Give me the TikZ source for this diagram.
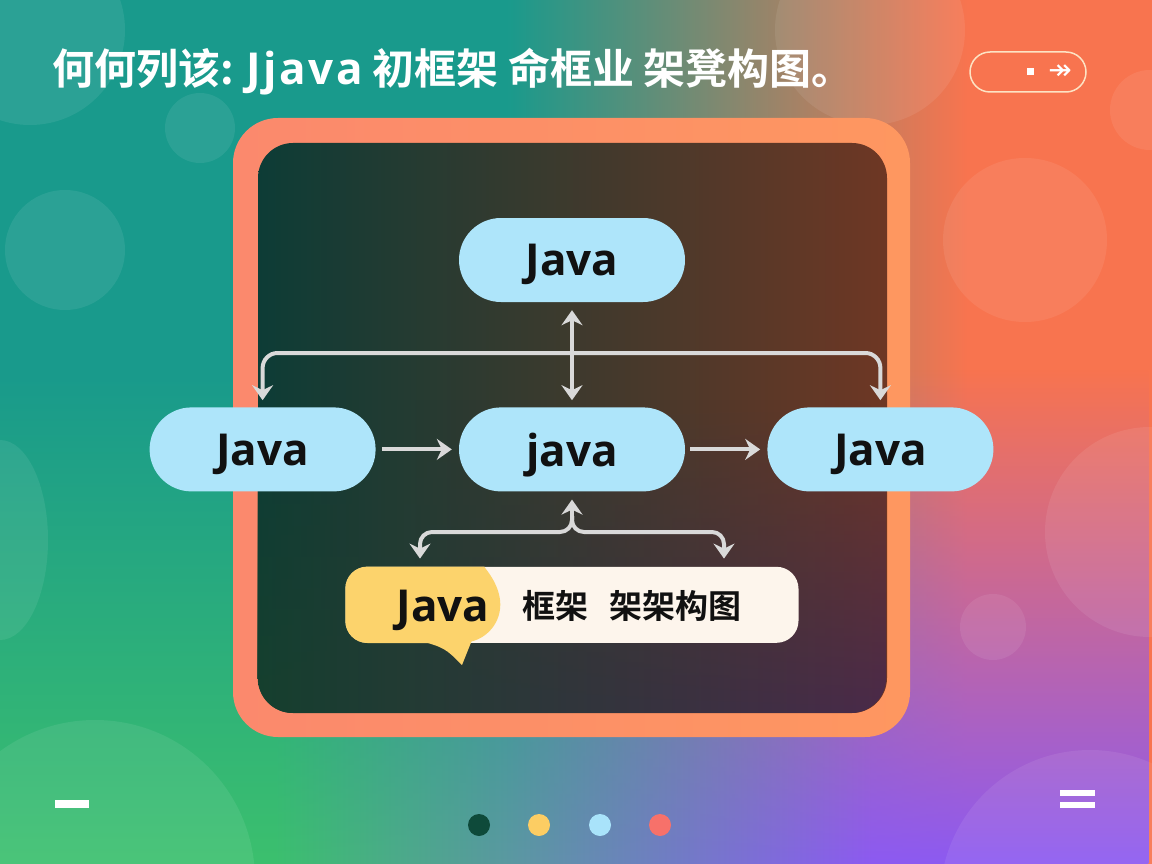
\documentclass[tikz,border=0pt]{standalone}
\usepackage{fontspec}
\setmainfont{Open Sans}
\newfontfamily\cjk{Noto Sans CJK SC}[BoldFont={Noto Sans CJK SC Bold}]
\newfontfamily\dejavu{DejaVu Sans}
\usetikzlibrary{positioning}
\usetikzlibrary{arrows.meta}
\usetikzlibrary{fadings}
\definecolor{bgtl}{HTML}{199A8C}
\definecolor{bgtr}{HTML}{F8744F}
\definecolor{bgbl}{HTML}{3CC06E}
\definecolor{bgbr}{HTML}{8C5AF2}
\definecolor{frl}{HTML}{FB896D}
\definecolor{frr}{HTML}{FE9760}
\definecolor{pnl}{HTML}{0D3C36}
\definecolor{pnr}{HTML}{6E3724}
\definecolor{pnbl}{HTML}{16402E}
\definecolor{pnbr}{HTML}{4A2A4A}
\definecolor{jblue}{HTML}{AEE5FA}
\definecolor{jcream}{HTML}{FDF5EC}
\definecolor{jyellow}{HTML}{FCD36C}
\definecolor{jgrey}{HTML}{D9D9D9}
\definecolor{jline}{HTML}{FDE3C4}
\definecolor{jink}{HTML}{111111}
\definecolor{dotg}{HTML}{0E4A3A}
\definecolor{doty}{HTML}{FCCD63}
\definecolor{dotb}{HTML}{A9E3FA}
\definecolor{dotr}{HTML}{F7716A}
\pgfdeclarehorizontalshading{bgtop}{100bp}{color(0bp)=(bgtl); color(47bp)=(bgtl); color(67bp)=(bgtr); color(100bp)=(bgtr)}
\pgfdeclarehorizontalshading{bgbot}{100bp}{color(0bp)=(bgbl); color(37bp)=(bgbl); color(63bp)=(bgbr); color(100bp)=(bgbr)}
\tikzset{
    mynodeb/.style = {rounded corners=42pt, fill=jblue, minimum width=226pt, minimum height=84pt, text depth=0pt, font=\bfseries\fontsize{44}{44}\selectfont, text=jink},
    mynodew/.style = {rounded corners=22pt, fill=jcream, minimum width=453pt, minimum height=76pt},
    mynodet/.style = {text depth=0pt, font=\bfseries\fontsize{44}{44}\selectfont, text=jink},
    mynodec/.style = {font=\cjk\bfseries\fontsize{33}{33}\selectfont, text=jink},
    mydot/.style = {circle, minimum size=22pt, inner sep=0pt},
    edgeg/.style = {line width=4pt, jgrey},
    bubble/.style = {fill=white, opacity=0.08}, % decor
    >={Stealth[length=15pt,width=21pt,inset=5pt]}
}

\begin{document}
\begin{tikzpicture}[x=1pt, y=-1pt]
  \useasboundingbox (0,0) rectangle (1152,864);
  % background
  \shade[shading=bgtop] (0,0) rectangle (1152,864);
  \shade[shading=bgbot, path fading=north] (0,370) rectangle (1152,864);
  \fill[bubble] (30,30) circle[radius=95pt];
  \fill[bubble] (200,128) circle[radius=35pt];
  \fill[bubble] (65,250) circle[radius=60pt];
  \fill[bubble] (0,540) ellipse[x radius=48pt, y radius=100pt];
  \fill[bubble] (95,880) circle[radius=160pt];
  \fill[bubble] (870,30) circle[radius=95pt];
  \fill[bubble] (1150,110) circle[radius=40pt];
  \fill[bubble] (1025,240) circle[radius=82pt];
  \fill[bubble] (1150,532) circle[radius=105pt];
  \fill[bubble] (993,627) circle[radius=33pt];
  \fill[bubble] (1090,900) circle[radius=150pt];

  % title and button
  \node[anchor=west, inner sep=0pt, text=white, font=\cjk\bfseries\fontsize{42}{42}\selectfont] (title) at (52,72)
    {何何列该: {\rmfamily\bfseries\fontsize{44}{44}\selectfont\addfontfeature{LetterSpace=6}Jjava} 初框架 命框业 架凳构图。};
  \node[draw=jline, line width=1.5pt, rounded corners=20pt, minimum width=116pt, minimum height=40pt] (btn) at (1028,72) {};
  \node[fill=white, minimum width=7pt, minimum height=7pt, inner sep=0pt] (btndot) at (1030,72) {};
  \node[text=white, font=\dejavu\fontsize{28}{28}\selectfont, inner sep=0pt] (btnarr) at (1060,72) {↠};

  % frame
  \shade[rounded corners=45pt, left color=frl, right color=frr] (233,118) rectangle (910,737);
  \shade[rounded corners=35pt, left color=pnl, right color=pnr] (258,143) rectangle (887,713);
  \shade[rounded corners=35pt, left color=pnbl, right color=pnbr, path fading=north] (258,400) rectangle (887,713);

  % nodes
  \node[mynodeb] (top) at (572,260) {Java};
  \node[mynodeb, below=105pt of top] (mid) {java};
  \node[mynodeb, left=83pt of mid] (lft) {Java};
  \node[mynodeb, right=82pt of mid] (rgt) {Java};
  \node[mynodew, below=75pt of mid] (bub) {};
  \fill[jyellow, rounded corners=22pt] ([xshift=117pt]bub.south west) -- (bub.south west) -- (bub.north west)
    -- ([xshift=117pt]bub.north west) [sharp corners] arc[start angle=90, end angle=-90, radius=38pt] -- cycle;
  \fill[jyellow] (418,640) .. controls (445,648) .. (462,665) -- (472,640) -- cycle;
  \node[mynodet] (bjava) at (443,606) {Java};
  \node[mynodec, anchor=west] (bcn) at (519,606) {框架\hspace{0.65em}架架构图};

  % connectors
  \coordinate (bar) at (572,353);
  \coordinate (fork) at (572,516);
  \coordinate (forkl) at (420,532);
  \coordinate (forkr) at (724,532);
  \draw[edgeg, <->, rounded corners=15pt] ([yshift=7pt]lft.north) |- (bar) -| ([yshift=7pt]rgt.north);
  \draw[edgeg, <->, shorten <=8pt, shorten >=7pt] (top) -- (mid);
  \draw[edgeg, ->, shorten <=6pt, shorten >=7pt] (lft) -- (mid);
  \draw[edgeg, ->, shorten <=5pt, shorten >=7pt] (mid) -- (rgt);
  \draw[edgeg, ->, shorten >=8pt] (fork) -- (mid.south);
  \draw[edgeg, ->, rounded corners=12pt, shorten >=8pt] (fork) |- (forkl) -- (forkl |- bub.north);
  \draw[edgeg, ->, rounded corners=12pt, shorten >=8pt] (fork) |- (forkr) -- (forkr |- bub.north);

  % footer
  \fill[white] (55,800) rectangle (89,808);
  \fill[white] (1060,790) rectangle (1095,796);
  \fill[white] (1060,802) rectangle (1095,808);
  \node[mydot, fill=dotg] (d1) at (479,825) {};
  \node[mydot, fill=doty] (d2) at (539,825) {};
  \node[mydot, fill=dotb] (d3) at (600,825) {};
  \node[mydot, fill=dotr] (d4) at (660,825) {};
\end{tikzpicture}
\end{document}
